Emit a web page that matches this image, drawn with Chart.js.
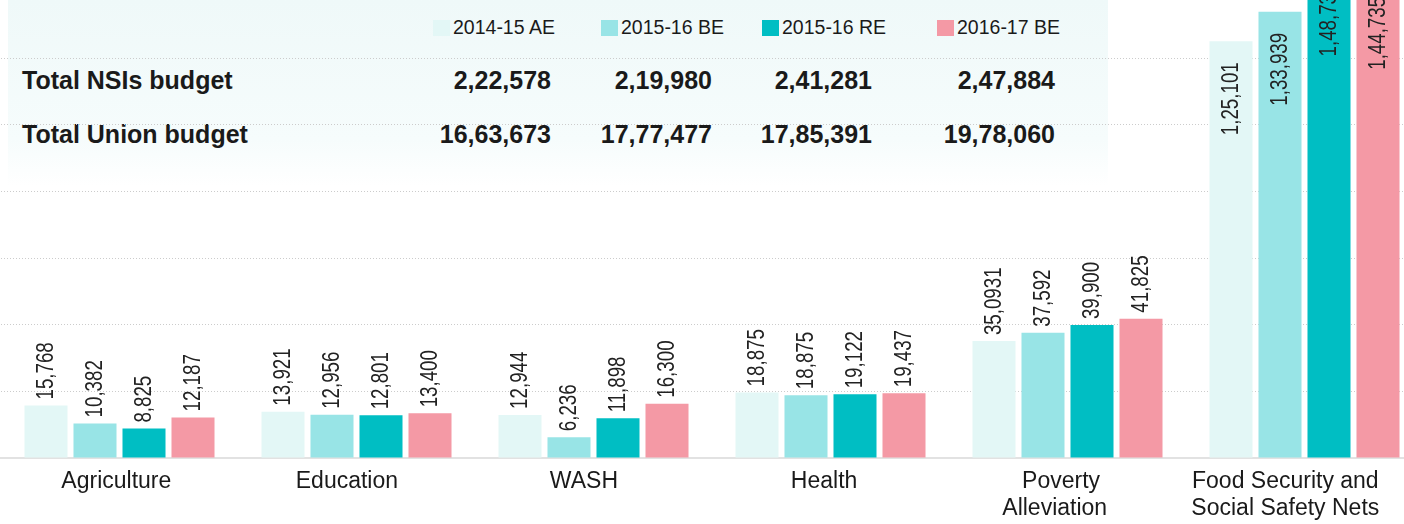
<!DOCTYPE html>
<html lang="en">
<head>
<meta charset="UTF-8">
<title>NSI budget by sector</title>
<script src="https://cdn.jsdelivr.net/npm/chart.js"></script>
<style>
    body {
        margin: 0;
        background: #ffffff;
        overflow: hidden;
        font-family: 'Liberation Sans', Arial, sans-serif;
        color: #1a1a1a;
    }
    .wrap {
        position: relative;
        width: 1424px;
        height: 524px;
    }
    .table-bg {
        position: absolute;
        left: 8px;
        top: 0;
        width: 1100px;
        height: 186px;
        background: linear-gradient(#eff9f9, #f6fcfc 75%, rgba(255,255,255,0));
    }
    .chart-box {
        position: absolute;
        left: 0;
        top: 0;
        width: 1424px;
        height: 524px;
    }
    .legend-item {
        position: absolute;
        top: 15px;
        font-size: 19.5px;
        line-height: 24px;
        white-space: nowrap;
    }
    .legend-item span {
        display: inline-block;
        width: 17px;
        height: 16px;
        margin-right: 3px;
        vertical-align: -2px;
    }
    .row-label, .row-num {
        position: absolute;
        font-weight: bold;
        font-size: 25px;
        line-height: 30px;
        white-space: nowrap;
    }
    .row-num { text-align: right; }
</style>
</head>
<body>
<div class="wrap">
    <div class="table-bg"></div>
    <div id="tableLayer"></div>
    <div class="chart-box"><canvas id="budgetChart"></canvas></div>
</div>

<script>
// categorias y series
const categories = [
    'Agriculture', 'Education', 'WASH', 'Health',
    ['Poverty', 'Alleviation'], ['Food Security and', 'Social Safety Nets']
];
const seriesNames = ['2014-15 AE', '2015-16 BE', '2015-16 RE', '2016-17 BE'];
const seriesColors = ['#e3f7f6', '#98e4e6', '#00bec3', '#f499a5'];

const ae1415 = [15768, 13921, 12944, 19700, 35093, 125101];
const be1516 = [10382, 12956, 6236, 18875, 37592, 133939];
const re1516 = [8825, 12801, 11898, 19122, 39900, 148735];
const be1617 = [12187, 13400, 16300, 19437, 41825, 144735];

const ae1415Labels = ['15,768', '13,921', '12,944', '18,875', '35,0931', '1,25,101'];
const be1516Labels = ['10,382', '12,956', '6,236', '18,875', '37,592', '1,33,939'];
const re1516Labels = ['8,825', '12,801', '11,898', '19,122', '39,900', '1,48,735'];
const be1617Labels = ['12,187', '13,400', '16,300', '19,437', '41,825', '1,44,735'];

// tabla de totales
const rowNames = ['Total NSIs budget', 'Total Union budget'];
const nsiTotals = ['2,22,578', '2,19,980', '2,41,281', '2,47,884'];
const unionTotals = ['16,63,673', '17,77,477', '17,85,391', '19,78,060'];

const yMax = 137500;
const yStep = 20000;

// leyenda y tabla en html
const layer = document.getElementById('tableLayer');
const legendLeft = [433, 601, 762, 937];
const colRight = [551, 712, 872, 1055];
const rowTop = [65, 119];
let html = '';
seriesNames.forEach((name, i) => {
    html += `<div class="legend-item" style="left:${legendLeft[i]}px"><span style="background:${seriesColors[i]}"></span>${name}</div>`;
});
[nsiTotals, unionTotals].forEach((row, r) => {
    html += `<div class="row-label" style="left:22px;top:${rowTop[r]}px">${rowNames[r]}</div>`;
    row.forEach((v, c) => {
        html += `<div class="row-num" style="right:${1424 - colRight[c]}px;top:${rowTop[r]}px">${v}</div>`;
    });
});
layer.innerHTML = html;

const valueLabels = [ae1415Labels, be1516Labels, re1516Labels, be1617Labels];

// las etiquetas del original no quedan centradas en el grupo: se corren a la izquierda
const tickShift = [1, 3, 3, 2, [2, 4], [6, 6]];
const shiftLabel = (label, i) => {
    const s = tickShift[i];
    if (Array.isArray(label)) return label.map((l, k) => l + ' '.repeat(s[k]));
    return label + ' '.repeat(s);
};

const barValuePlugin = {
    id: 'barValues',
    afterDatasetsDraw(chart) {
        const ctx = chart.ctx;
        ctx.save();
        ctx.font = '24px "Liberation Sans", Arial, sans-serif';
        ctx.fillStyle = '#222222';
        ctx.textBaseline = 'middle';
        chart.data.datasets.forEach((ds, di) => {
            const meta = chart.getDatasetMeta(di);
            meta.data.forEach((bar, i) => {
                const text = valueLabels[di][i];
                ctx.save();
                if (ds.data[i] > 100000) {
                    // no cabe arriba: dentro de la barra
                    ctx.translate(bar.x, bar.y + 21);
                    ctx.rotate(-Math.PI / 2);
                    ctx.textAlign = 'right';
                } else {
                    ctx.translate(bar.x, bar.y - 6);
                    ctx.rotate(-Math.PI / 2);
                    ctx.textAlign = 'left';
                }
                // letra condensada
                ctx.scale(0.78, 1);
                ctx.fillText(text, 0, 0);
                ctx.restore();
            });
        });
        ctx.restore();
    }
};

const allSeries = [ae1415, be1516, re1516, be1617];

new Chart(document.getElementById('budgetChart'), {
    type: 'bar',
    data: {
        labels: categories,
        datasets: allSeries.map((d, i) => ({
            label: seriesNames[i],
            data: d,
            backgroundColor: seriesColors[i],
            categoryPercentage: 0.827,
            barPercentage: 0.878
        }))
    },
    options: {
        responsive: true,
        maintainAspectRatio: false,
        animation: false,
        layout: { padding: { left: 1, right: 1, top: 0, bottom: 0 } },
        plugins: {
            legend: { display: false },
            tooltip: { enabled: false }
        },
        scales: {
            x: {
                grid: { display: false, drawTicks: false },
                border: { display: true, color: '#e2e2e2', width: 2 },
                ticks: {
                    color: '#1a1a1a',
                    padding: 10,
                    maxRotation: 0,
                    autoSkip: false,
                    font: { family: '"Liberation Sans", Arial, sans-serif', size: 23, lineHeight: '27px' },
                    callback: function (value, index) {
                        return shiftLabel(this.getLabelForValue(value), index);
                    }
                },
                afterFit(scale) {
                    scale.height = 66;
                    scale.paddingLeft = 0;
                    scale.paddingRight = 0;
                }
            },
            y: {
                min: 0,
                max: yMax,
                afterBuildTicks(scale) {
                    const t = [];
                    for (let v = 0; v < yMax; v += yStep) t.push({ value: v });
                    scale.ticks = t;
                },
                ticks: { display: false },
                grid: {
                    drawTicks: false,
                    color: (c) => c.tick && c.tick.value === 0 ? 'rgba(0,0,0,0)' : '#cccccc',
                    lineWidth: 1
                },
                border: { display: false, dash: [1, 2] },
                afterFit(scale) { scale.width = 0; }
            }
        }
    },
    plugins: [barValuePlugin]
});
</script>
</body>
</html>
